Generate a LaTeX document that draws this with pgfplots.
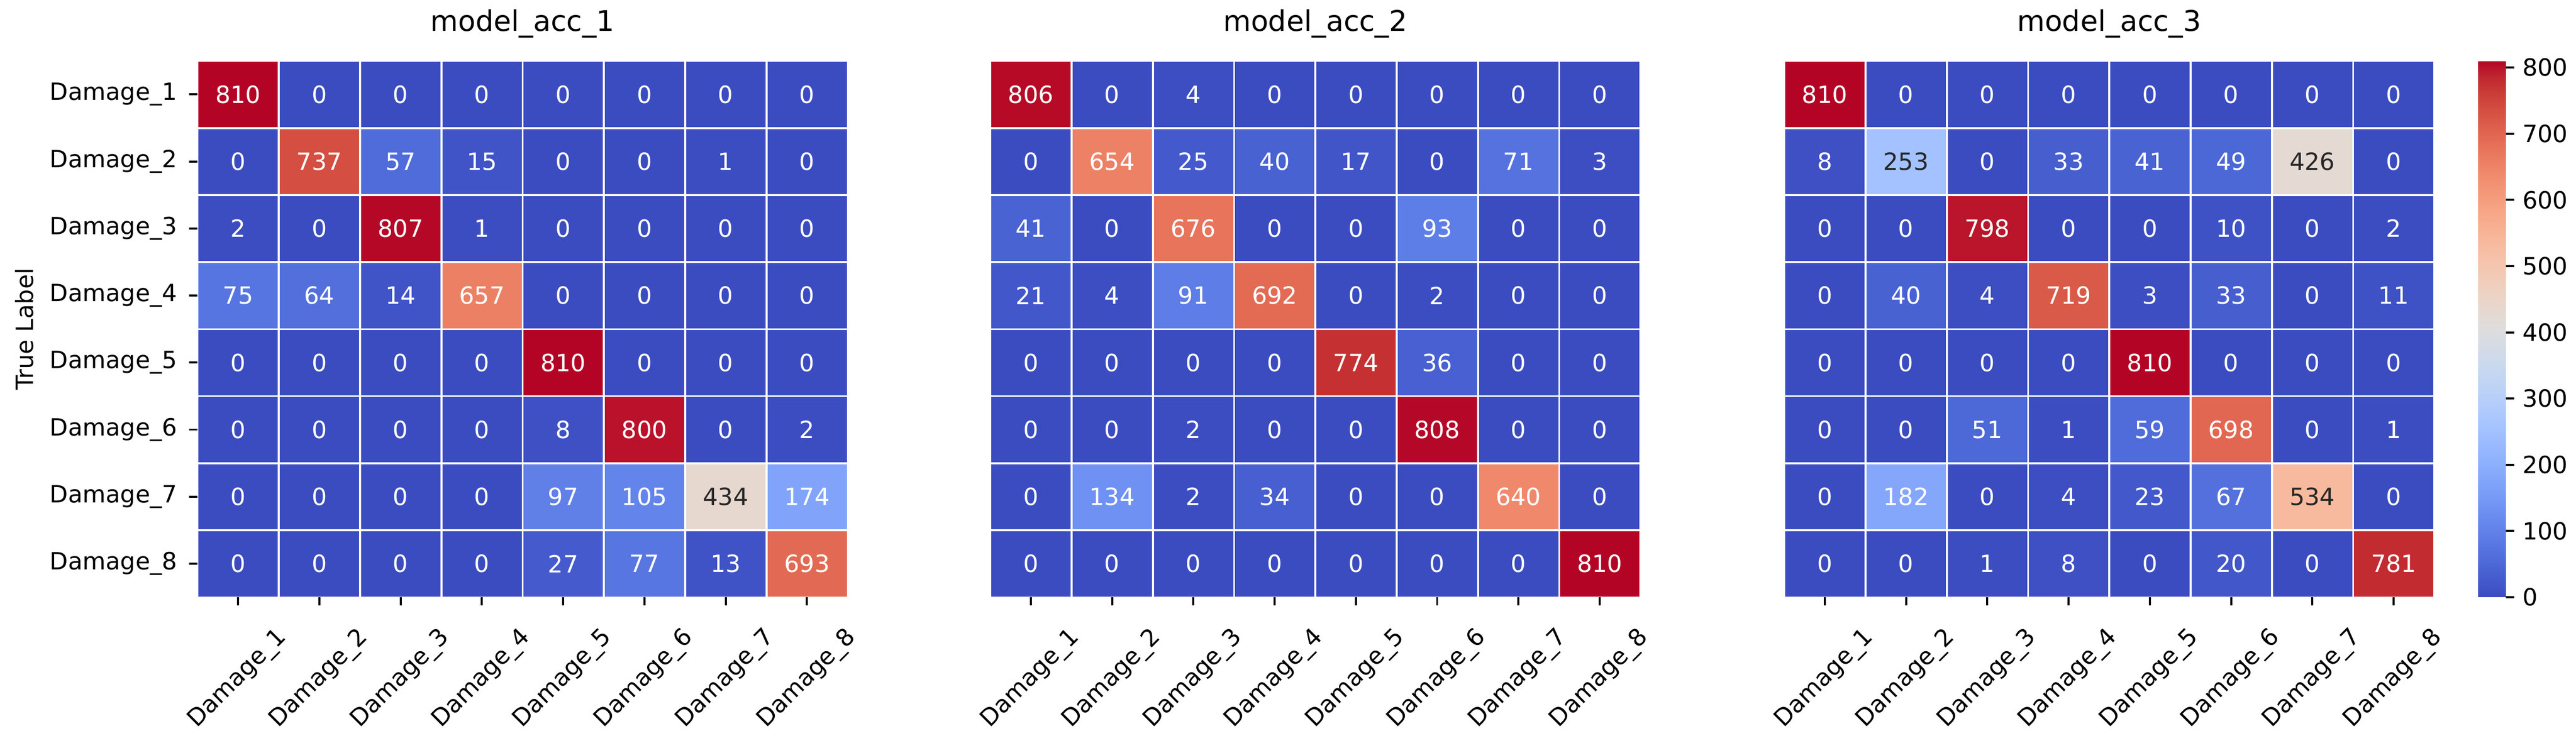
\documentclass[border=0pt]{standalone}
\usepackage{fontspec}
\setmainfont{DejaVu Sans}
\usepackage{pgfplots}
\usepackage{pgfplotstable}
\pgfplotsset{compat=1.18}
\definecolor{darktext}{RGB}{38,38,38}
\pgfplotsset{
  colormap={coolwarm}{
    rgb255=(59,76,192) rgb255=(68,90,204) rgb255=(77,104,215) rgb255=(87,117,225)
    rgb255=(98,130,234) rgb255=(108,142,241) rgb255=(119,154,247) rgb255=(130,165,251)
    rgb255=(141,176,254) rgb255=(152,185,255) rgb255=(163,194,255) rgb255=(174,201,253)
    rgb255=(184,208,249) rgb255=(194,213,244) rgb255=(204,217,238) rgb255=(213,219,230)
    rgb255=(221,221,221) rgb255=(229,216,209) rgb255=(236,211,197) rgb255=(241,204,184)
    rgb255=(245,196,172) rgb255=(247,187,159) rgb255=(247,177,147) rgb255=(247,166,134)
    rgb255=(244,154,123) rgb255=(241,141,111) rgb255=(236,127,99) rgb255=(229,112,88)
    rgb255=(222,96,77) rgb255=(213,80,66) rgb255=(203,62,56) rgb255=(192,40,47)
    rgb255=(180,4,38)
  }
}
\pgfplotstableread{
x y v
0 0 810
1 0 0
2 0 0
3 0 0
4 0 0
5 0 0
6 0 0
7 0 0
0 1 0
1 1 737
2 1 57
3 1 15
4 1 0
5 1 0
6 1 1
7 1 0
0 2 2
1 2 0
2 2 807
3 2 1
4 2 0
5 2 0
6 2 0
7 2 0
0 3 75
1 3 64
2 3 14
3 3 657
4 3 0
5 3 0
6 3 0
7 3 0
0 4 0
1 4 0
2 4 0
3 4 0
4 4 810
5 4 0
6 4 0
7 4 0
0 5 0
1 5 0
2 5 0
3 5 0
4 5 8
5 5 800
6 5 0
7 5 2
0 6 0
1 6 0
2 6 0
3 6 0
4 6 97
5 6 105
6 6 434
7 6 174
0 7 0
1 7 0
2 7 0
3 7 0
4 7 27
5 7 77
6 7 13
7 7 693
}\tA
\pgfplotstableread{
x y v
0 0 806
1 0 0
2 0 4
3 0 0
4 0 0
5 0 0
6 0 0
7 0 0
0 1 0
1 1 654
2 1 25
3 1 40
4 1 17
5 1 0
6 1 71
7 1 3
0 2 41
1 2 0
2 2 676
3 2 0
4 2 0
5 2 93
6 2 0
7 2 0
0 3 21
1 3 4
2 3 91
3 3 692
4 3 0
5 3 2
6 3 0
7 3 0
0 4 0
1 4 0
2 4 0
3 4 0
4 4 774
5 4 36
6 4 0
7 4 0
0 5 0
1 5 0
2 5 2
3 5 0
4 5 0
5 5 808
6 5 0
7 5 0
0 6 0
1 6 134
2 6 2
3 6 34
4 6 0
5 6 0
6 6 640
7 6 0
0 7 0
1 7 0
2 7 0
3 7 0
4 7 0
5 7 0
6 7 0
7 7 810
}\tB
\pgfplotstableread{
x y v
0 0 810
1 0 0
2 0 0
3 0 0
4 0 0
5 0 0
6 0 0
7 0 0
0 1 8
1 1 253
2 1 0
3 1 33
4 1 41
5 1 49
6 1 426
7 1 0
0 2 0
1 2 0
2 2 798
3 2 0
4 2 0
5 2 10
6 2 0
7 2 2
0 3 0
1 3 40
2 3 4
3 3 719
4 3 3
5 3 33
6 3 0
7 3 11
0 4 0
1 4 0
2 4 0
3 4 0
4 4 810
5 4 0
6 4 0
7 4 0
0 5 0
1 5 0
2 5 51
3 5 1
4 5 59
5 5 698
6 5 0
7 5 1
0 6 0
1 6 182
2 6 0
3 6 4
4 6 23
5 6 67
6 6 534
7 6 0
0 7 0
1 7 0
2 7 1
3 7 8
4 7 0
5 7 20
6 7 0
7 7 781
}\tC
\pgfplotsset{
  heat/.style={
    scale only axis, width=273.7pt, height=225.93pt,
    anchor=south west,
    xmin=-0.5, xmax=7.5, ymin=-0.5, ymax=7.5, y dir=reverse,
    enlargelimits=false,
    colormap name=coolwarm, point meta min=0, point meta max=810,
    axis line style={draw=none},
    xtick={0,...,7},
    xticklabels={Damage\_1,Damage\_2,Damage\_3,Damage\_4,Damage\_5,Damage\_6,Damage\_7,Damage\_8},
    tick align=outside, xtick pos=left, ytick pos=left,
    major tick length=3.5pt, tick style={black, line width=0.85pt},
    ticklabel style={font=\fontsize{10}{12}\selectfont},
    xticklabel style={yshift=-31pt, rotate=45, anchor=center},
    title style={font=\fontsize{12}{14.4}\selectfont, at={(0.5,1)}, anchor=center, yshift=9.6pt},
    /pgf/number format/assume math mode=true,
  },
  hmcells/.style={scatter, only marks, point meta=explicit, mark=square*, mark size=1pt,
    scatter/use mapped color={draw=mapped color, fill=mapped color},
    mark options={xscale=16.6, yscale=13.62, line width=0.1pt}},
  hmannot/.style={draw=none, mark=none, point meta=explicit,
    nodes near coords={\ifdim\pgfplotspointmetatransformed pt>247pt\ifdim\pgfplotspointmetatransformed pt<765pt\color{darktext}\fi\fi\pgfmathprintnumber[fixed,precision=0]{\pgfplotspointmeta}},
    nodes near coords style={anchor=center, text=white, font=\fontsize{10}{12}\selectfont}},
}
\begin{document}
\begin{tikzpicture}
\useasboundingbox (0,0) rectangle (1084.43pt,315.01pt);
\begin{axis}[heat, at={(83.13pt,63.41pt)}, title={model\_acc\_1},
  ytick={0,...,7},
  yticklabels={Damage\_1,Damage\_2,Damage\_3,Damage\_4,Damage\_5,Damage\_6,Damage\_7,Damage\_8},
  yticklabel style={xshift=-1.5pt},
  ylabel={True Label}, ylabel style={font=\fontsize{10}{12}\selectfont, at={(axis description cs:-0.2665,0.5)}, anchor=center}]
\addplot[hmcells] table[x=x,y=y,meta=v] {\tA};
\addplot[hmannot] table[x=x,y=y,meta=v] {\tA};
\end{axis}
\begin{axis}[heat, at={(416.84pt,63.41pt)}, title={model\_acc\_2}, ytick=\empty]
\addplot[hmcells] table[x=x,y=y,meta=v] {\tB};
\addplot[hmannot] table[x=x,y=y,meta=v] {\tB};
\end{axis}
\begin{axis}[heat, at={(751.06pt,63.41pt)}, title={model\_acc\_3}, ytick=\empty]
\addplot[hmcells] table[x=x,y=y,meta=v] {\tC};
\addplot[hmannot] table[x=x,y=y,meta=v] {\tC};
\end{axis}
\begin{axis}[at={(1042.27pt,289.34pt)}, anchor=north east,
  scale only axis, width=1pt, height=225.93pt,
  xmin=0, xmax=1, ymin=0, ymax=1,
  axis line style={draw=none}, xtick=\empty, ytick=\empty,
  colormap name=coolwarm, point meta min=0, point meta max=810,
  colorbar,
  colorbar style={
    width=11.73pt, height=225.93pt,
    at={(parent axis.north east)}, anchor=north west, xshift=-7.6pt,
    ytick={0,100,...,800},
    axis line style={draw=none},
    tick align=outside, ytick pos=right, yticklabel pos=right,
    major tick length=3.4pt, tick style={black, line width=0.85pt},
    yticklabel style={font=\fontsize{10}{12}\selectfont},
    /pgf/number format/assume math mode=true,
  }]
\addplot[draw=none, mark=none] coordinates {(0,0)};
\end{axis}
\end{tikzpicture}
\end{document}
